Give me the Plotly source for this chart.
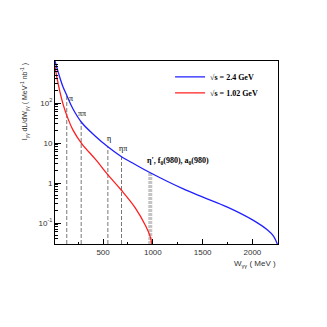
import numpy as np
import plotly.graph_objects as go

# photon-photon luminosity, sqrt(s) = 2.4 GeV
w_blue = [17, 37, 67, 98, 138, 198, 289, 420, 551, 682, 823, 974, 1306, 1497, 1749, 2001, 2152, 2212, 2262]
lum_blue = [1122, 750, 422, 251, 150, 71, 31.6, 15, 7.9, 4.6, 2.9, 1.8, 0.71, 0.45, 0.25, 0.12, 0.067, 0.047, 0.025]

# sqrt(s) = 1.02 GeV
w_red = [17, 37, 67, 98, 138, 198, 289, 420, 551, 682, 823, 923, 974, 994, 1000]
lum_red = [840, 422, 188, 94, 47, 21, 9.4, 4.0, 1.58, 0.67, 0.24, 0.089, 0.045, 0.025, 0.016]

# resonance thresholds (MeV)
res_names = ['π', 'ππ', 'η', 'ηπ']
res_mass = [135, 280, 548, 685]
band_lo, band_hi = 958, 990
band_label = "η', f<sub>0</sub>(980), a<sub>0</sub>(980)"

ymin = 10 ** -1.525
ymax = 10 ** 3.05


def on_blue(w):
    return 10 ** np.interp(w, w_blue, np.log10(lum_blue))


fig = go.Figure()

for m in res_mass:
    fig.add_trace(go.Scatter(x=[m, m], y=[ymin, on_blue(m)], mode='lines',
                             line=dict(color='#777777', width=1, dash='4px,2px'),
                             showlegend=False, hoverinfo='skip'))

wb = (band_lo + band_hi) / 2
fig.add_trace(go.Scatter(x=[wb, wb], y=[ymin, on_blue(band_lo)], mode='lines',
                         line=dict(color='#c4c4c4', width=4, dash='3px,1px'),
                         showlegend=False, hoverinfo='skip'))

fig.add_trace(go.Scatter(x=w_blue, y=lum_blue, mode='lines', line_shape='spline',
                         line=dict(color='#1f1fff', width=1.3), name='√s = 2.4 GeV',
                         legend='legend'))
fig.add_trace(go.Scatter(x=w_red, y=lum_red, mode='lines', line_shape='spline',
                         line=dict(color='#ff1f1f', width=1.3), name='√s = 1.02 GeV',
                         legend='legend2'))

lab_font = dict(family='Liberation Serif', size=8, color='black')
for name, m in zip(res_names, res_mass):
    if name == 'π':
        fig.add_annotation(x=m, y=np.log10(on_blue(m)), text=name, showarrow=False,
                           xanchor='left', yanchor='middle', xshift=0, yshift=-3, font=lab_font)
    else:
        fig.add_annotation(x=m, y=np.log10(on_blue(m)), text=name, showarrow=False,
                           xanchor='center', yanchor='bottom', xshift=1, yshift=2, font=lab_font)
fig.add_annotation(x=band_lo, y=np.log10(on_blue(band_lo)), text='<b>' + band_label + '</b>',
                   showarrow=False, xanchor='left', yanchor='bottom', xshift=-4, yshift=4,
                   font=dict(family='Liberation Serif', size=8, color='black'))

axis_font = dict(family='Liberation Sans', size=8, color='#333333')
fig.add_annotation(xref='paper', yref='paper', x=-0.165, y=1.0, yanchor='top', textangle=-90,
                   text='I<sub>γγ</sub> dL/dW<sub>γγ</sub> ( MeV<sup>-1</sup> nb<sup>-1</sup> )',
                   showarrow=False, font=dict(family='Liberation Sans', size=7, color='#333333'))
fig.add_annotation(xref='paper', yref='paper', x=1.0, y=-0.112, xanchor='right', yanchor='middle',
                   text='W<sub>γγ</sub> ( MeV )', showarrow=False, font=axis_font)

leg_font = dict(family='Liberation Serif', size=8, color='black', weight='bold')
minor_y = [k * 10 ** e for e in range(-2, 4) for k in range(2, 10)]
fig.update_layout(
    width=311, height=311,
    margin=dict(l=47, r=41, t=53, b=75),
    plot_bgcolor='white', paper_bgcolor='white',
    legend=dict(x=0.516, y=0.992, xanchor='left', yanchor='top', font=leg_font,
                bgcolor='rgba(0,0,0,0)'),
    legend2=dict(x=0.516, y=0.905, xanchor='left', yanchor='top', font=leg_font,
                 bgcolor='rgba(0,0,0,0)'),
    xaxis=dict(range=[17, 2257], showgrid=False, zeroline=False,
               showline=True, linecolor='black', linewidth=1, mirror=True,
               ticks='inside', ticklen=5, tickcolor='black',
               tickvals=[500, 1000, 1500, 2000], tickfont=axis_font,
               minor=dict(ticks='inside', ticklen=2, dtick=250, tick0=0, tickcolor='black')),
    yaxis=dict(type='log', range=[np.log10(ymin), np.log10(ymax)], showgrid=False,
               zeroline=False, showline=True, linecolor='black', linewidth=1, mirror=True,
               ticks='inside', ticklen=6, tickcolor='black',
               tickvals=[0.1, 1, 10, 100],
               ticktext=['10<sup>-1</sup>', '1', '10', '10<sup>2</sup>'],
               tickfont=axis_font,
               minor=dict(ticks='inside', ticklen=3, tickvals=minor_y, tickcolor='black')),
)

fig.write_html('out.html')
